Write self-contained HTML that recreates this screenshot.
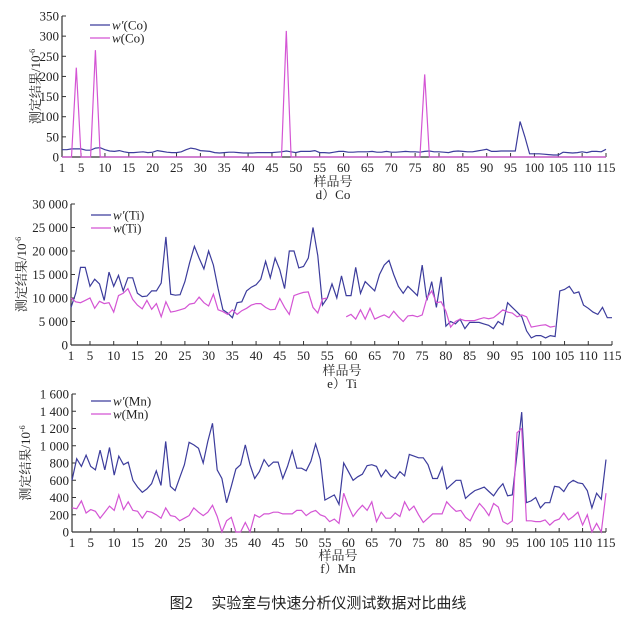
<!DOCTYPE html>
<html><head><meta charset="utf-8"><style>
html,body{margin:0;padding:0;background:#fff;width:641px;height:624px;overflow:hidden}
svg text{font-family:"Liberation Serif","Noto Serif CJK SC",serif;fill:#222}
</style></head><body>
<svg id="s" width="641" height="624" xmlns="http://www.w3.org/2000/svg"></svg>
<script>
const S=document.getElementById('s');let h='';
const B='#3c3c9c',P='#d455d4';
function chart(o){
 const {x0,x1,y0,ytop,ymax,step,labels}=o;
 const X=i=>x0+(i-1)*(x1-x0)/114, Y=v=>y0-(v/ymax)*(y0-ytop);
 h+=`<line x1="${x0}" y1="${ytop}" x2="${x0}" y2="${y0}" stroke="#333" stroke-width="1.2"/>`;
 h+=`<line x1="${x0}" y1="${y0}" x2="${x1}" y2="${y0}" stroke="#333" stroke-width="1.2"/>`;
 for(let v=0,k=0;v<=ymax;v+=step,k++){const y=Y(v);
  h+=`<line x1="${x0}" y1="${y}" x2="${x0+4}" y2="${y}" stroke="#333"/>`;
  h+=`<text x="${x0-3}" y="${y+4.5}" font-size="13" text-anchor="end">${labels[k]}</text>`;}
 const ticks=[1];for(let t=5;t<=115;t+=5)ticks.push(t);
 ticks.forEach(t=>{const x=X(t);h+=`<line x1="${x}" y1="${y0}" x2="${x}" y2="${y0-4}" stroke="#333"/>`;
  h+=`<text x="${x}" y="${y0+15}" font-size="13" text-anchor="middle">${t}</text>`;});
 o.series.forEach(s=>{let d='',pen=false;s.d.forEach((v,i)=>{if(v==null){pen=false;return;}
  d+=(pen?'L':'M')+X(i+1).toFixed(1)+' '+Y(v).toFixed(1);pen=true;});
  h+=`<path d="${d}" fill="none" stroke="${s.c}" stroke-width="1.2"/>`;});
 const lx=o.lx,ly=o.ly;
 o.leg.forEach((l,k)=>{const y=ly+k*13;h+=`<line x1="${lx}" y1="${y}" x2="${lx+20}" y2="${y}" stroke="${l[1]}" stroke-width="1.2"/>`;
  h+=`<text x="${lx+22}" y="${y+4.5}" font-size="13">${l[0]}</text>`;});
 h+=`<text transform="translate(${o.yl},${(y0+ytop)/2}) rotate(-90)" font-size="13" text-anchor="middle" font-family="Liberation Sans,Noto Sans CJK SC,sans-serif">测定结果/10<tspan font-size="8" dy="-5">-6</tspan></text>`;
 h+=`<text x="${o.cx}" y="${o.ty}" font-size="13" text-anchor="middle">样品号</text>`;
 h+=`<text x="${o.cx}" y="${o.ty+13}" font-size="13" text-anchor="middle">${o.sub}</text>`;
}
// Co
const base=[18,18,20,20,20,17,17,22,23,18,15,14,16,13,11,11,12,13,11,12,16,14,12,11,11,13,18,22,20,16,15,14,11,10,11,12,12,11,10,10,10,11,11,11,11,12,13,15,13,11,14,14,14,16,11,11,10,12,14,14,12,12,13,13,13,14,12,12,14,12,12,13,14,13,13,12,14,15,13,13,12,11,14,15,14,13,13,15,17,19,14,14,15,15,15,15,88,50,8,8,8,7,6,5,5,12,11,10,11,13,11,14,14,13,19];
const cw=base.slice(0,115);
const co=new Array(115).fill(0);co[4-1]=222;co[8-1]=265;co[48-1]=313;co[77-1]=205;
chart({x0:62,x1:606,y0:157,ytop:16,ymax:350,step:50,labels:[0,50,100,150,200,250,300,350],
 series:[{d:cw,c:B},{d:co,c:P}],lx:90,ly:25,leg:[['<tspan font-style="italic">w′</tspan>(Co)',B],['<tspan font-style="italic">w</tspan>(Co)',P]],yl:40,cx:333,ty:186,sub:'d）Co'});
// Ti
const tw=[8000,11000,16500,16500,12500,14000,13000,9500,15500,12500,14800,11500,14300,14300,11000,10300,10400,11500,11500,13200,23000,10800,10600,10700,13500,17500,21000,18500,16200,20000,17000,12000,7500,6800,5800,9000,9200,11500,12300,12800,14000,17800,14300,18500,16000,12000,20000,20000,16400,16700,18500,25000,19000,8500,10000,13000,10000,14700,10500,10500,16500,11000,13500,12500,11500,15000,17000,18000,15000,12500,11000,12500,11500,10500,17000,9500,13500,8000,14500,4000,5000,4500,5500,3500,4800,4800,4800,4500,4200,3500,5000,4300,9000,8000,7000,6000,3000,1500,2000,2000,1500,2000,1800,11500,11800,12500,11000,11300,8500,7800,7000,6500,8000,5800,5800];
const tp=[10000,9200,9000,9500,10000,7800,9300,8800,9000,7000,10500,11000,12000,9700,8500,7700,9500,7600,8800,6000,9200,7000,7200,7500,7800,8700,8900,10200,9000,8300,10800,7500,7100,6500,7500,6500,7300,7800,8500,8800,8800,8000,7500,7600,9900,8000,6500,10500,10900,11200,11300,8000,6800,9800,10000,null,null,null,6000,6500,5500,7500,5500,7800,5500,6000,6400,5800,7200,6000,5000,6200,6300,6000,6400,10000,11500,9000,9200,7200,3800,5000,5500,5200,5200,5200,5500,5800,5600,5800,6600,7500,7000,6800,6000,6400,6000,3800,4000,4200,4300,3800,4000];
while(tp.length<115)tp.push(null);
chart({x0:71,x1:612,y0:345,ytop:204,ymax:30000,step:5000,labels:['0','5 000','10 000','15 000','20 000','25 000','30 000'],
 series:[{d:tw.slice(0,115),c:B},{d:tp,c:P}],lx:91,ly:215,leg:[['<tspan font-style="italic">w′</tspan>(Ti)',B],['<tspan font-style="italic">w</tspan>(Ti)',P]],yl:26,cx:342,ty:375,sub:'e）Ti'});
// Mn
const mw=[600,850,760,890,760,720,950,720,980,660,880,780,810,600,520,460,500,560,710,540,1050,530,480,630,780,1040,1010,970,800,1050,1260,720,620,340,530,730,780,1010,780,620,700,840,760,810,810,620,760,940,740,740,710,820,1020,840,370,400,430,320,800,700,600,640,670,770,780,760,640,720,650,620,700,650,900,880,860,860,780,620,620,750,500,550,600,600,390,440,480,500,520,470,420,500,560,420,430,900,1390,340,360,400,280,340,340,530,520,470,560,600,570,560,480,280,450,380,840];
const mp=[280,270,360,220,260,240,160,230,300,250,430,260,350,250,240,160,240,230,200,160,280,190,180,130,160,190,280,230,190,230,310,180,0,130,170,0,0,110,0,200,170,210,210,230,230,210,210,210,250,250,190,230,250,200,180,120,150,100,450,300,180,250,310,250,350,120,230,160,160,220,180,350,250,300,200,110,160,210,210,210,350,290,240,250,170,130,240,330,270,190,330,290,120,90,130,1150,1200,130,130,120,120,140,80,130,150,220,140,180,230,80,200,0,100,0,450];
chart({x0:72,x1:606,y0:532,ytop:394,ymax:1600,step:200,labels:['0','200','400','600','800','1 000','1 200','1 400','1 600'],
 series:[{d:mw,c:B},{d:mp,c:P}],lx:91,ly:401,leg:[['<tspan font-style="italic">w′</tspan>(Mn)',B],['<tspan font-style="italic">w</tspan>(Mn)',P]],yl:30,cx:338,ty:560,sub:'f）Mn'});
h+=`<text x="318" y="608" font-size="15" text-anchor="middle" style="font-family:'Noto Sans CJK SC',sans-serif">图2　 实验室与快速分析仪测试数据对比曲线</text>`;
S.innerHTML=h;
</script>
</body></html>
